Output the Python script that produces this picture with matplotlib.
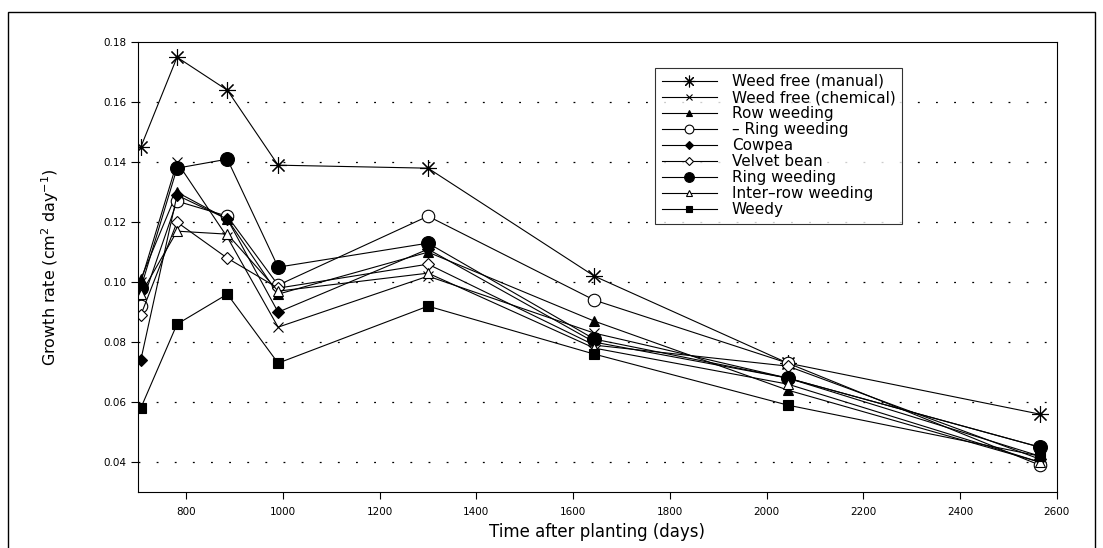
import matplotlib.pyplot as plt
from matplotlib.patches import Rectangle

# days after planting
days = [706, 781, 885, 990, 1300, 1644, 2044, 2565]

weed_free_manual = [0.145, 0.175, 0.164, 0.139, 0.138, 0.102, 0.073, 0.056]
weed_free_chem = [0.100, 0.140, 0.115, 0.085, 0.102, 0.083, 0.068, 0.042]
row_weeding = [0.101, 0.130, 0.121, 0.096, 0.110, 0.087, 0.064, 0.040]
ring_weeding_open = [0.092, 0.127, 0.122, 0.099, 0.122, 0.094, 0.073, 0.039]
cowpea = [0.074, 0.129, 0.121, 0.090, 0.111, 0.080, 0.068, 0.045]
velvet_bean = [0.089, 0.120, 0.108, 0.098, 0.106, 0.079, 0.072, 0.041]
ring_weeding = [0.098, 0.138, 0.141, 0.105, 0.113, 0.081, 0.068, 0.045]
inter_row = [0.096, 0.117, 0.116, 0.097, 0.103, 0.078, 0.066, 0.040]
weedy = [0.058, 0.086, 0.096, 0.073, 0.092, 0.076, 0.059, 0.042]

labels = ['Weed free (manual)', 'Weed free (chemical)', 'Row weeding',
          '\u2013 Ring weeding', 'Cowpea', 'Velvet bean', 'Ring weeding',
          'Inter\u2013row weeding', 'Weedy']
series = [weed_free_manual, weed_free_chem, row_weeding, ring_weeding_open,
          cowpea, velvet_bean, ring_weeding, inter_row, weedy]
# marker, filled, size
styles = [((8, 2, 0), True, 12), ('x', True, 7), ('^', True, 7),
          ('o', False, 9), ('D', True, 6), ('D', False, 6),
          ('o', True, 10), ('^', False, 7), ('s', True, 7)]

fig = plt.figure(figsize=(11.03, 5.48), dpi=100)
ax = fig.add_axes([0.125, 0.102, 0.833, 0.821])

for vals, lab, (m, filled, ms) in zip(series, labels, styles):
    ax.plot(days, vals, color='black', lw=0.8, marker=m, markersize=ms,
            markerfacecolor='black' if filled else 'white',
            markeredgecolor='black', markeredgewidth=0.8, label=lab)

ax.set_xlim(700, 2600)
ax.set_ylim(0.03, 0.18)
ax.set_xticks(range(800, 2601, 200))
ax.set_yticks([0.04, 0.06, 0.08, 0.10, 0.12, 0.14, 0.16, 0.18])
ax.set_yticklabels(['0.04', '0.06', '0.08', '0.10', '0.12', '0.14', '0.16', '0.18'])
for y in [0.04, 0.06, 0.08, 0.10, 0.12, 0.14, 0.16]:
    ax.axhline(y, color='black', lw=0.9, ls=(0, (1.5, 13)), zorder=0)

ax.tick_params(axis='both', labelsize=7.5, length=5, width=0.8, direction='out')
ax.tick_params(axis='x', pad=6)
for s in ax.spines.values():
    s.set_linewidth(0.8)

ax.set_xlabel('Time after planting (days)', fontsize=12, labelpad=4)
ax.set_ylabel('Growth rate (cm$^2$ day$^{-1}$)', fontsize=11.5, labelpad=30)

leg = ax.legend(loc='upper left', bbox_to_anchor=(0.555, 0.96), fontsize=11,
                frameon=True, fancybox=False, edgecolor='black',
                handlelength=3.6, labelspacing=0.07, borderpad=0.4,
                handletextpad=1.0, markerscale=0.7)
leg.get_frame().set_linewidth(0.8)

fig.patches.append(Rectangle((0.007, -0.06), 0.986, 1.038, transform=fig.transFigure,
                             fill=False, edgecolor='black', lw=1.0))

fig.savefig('out.png', dpi=100)
